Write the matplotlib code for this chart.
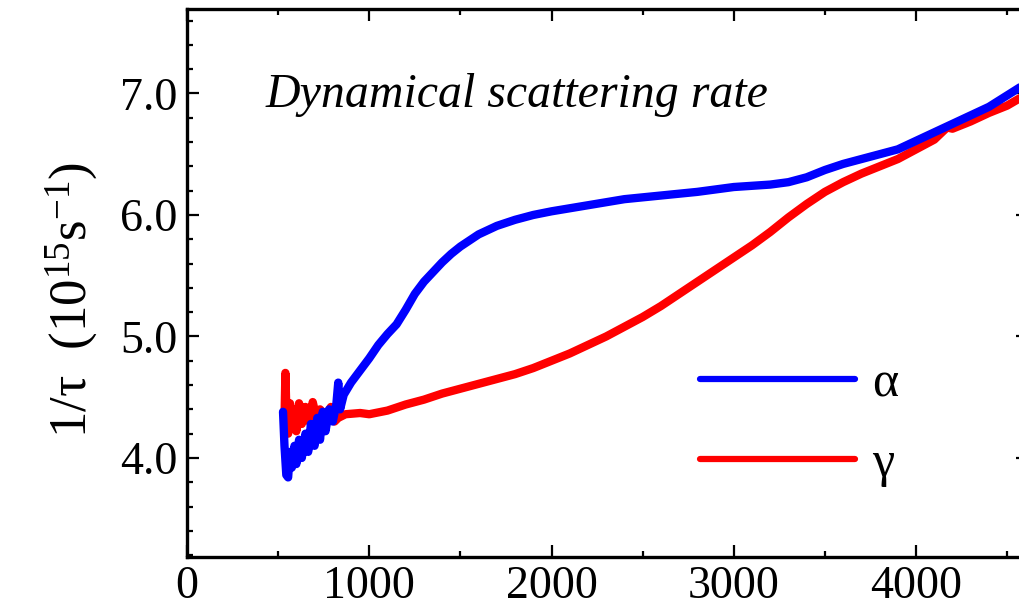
import numpy as np
import matplotlib
matplotlib.use("Agg")
import matplotlib.pyplot as plt
from matplotlib.ticker import MultipleLocator

plt.rcParams['font.family'] = ['Liberation Serif', 'DejaVu Serif']
plt.rcParams['mathtext.fontset'] = 'custom'
plt.rcParams['mathtext.rm'] = 'Liberation Serif'
plt.rcParams['mathtext.it'] = 'Liberation Serif:italic'

# alpha phase (blue)
alpha_x = [527, 535, 545, 555, 565, 575, 590, 600, 615, 630, 650, 665, 680,
           700, 715, 730, 745, 760, 780, 800, 820, 830, 840, 860, 900, 950,
           1000, 1050, 1100, 1150, 1200, 1250, 1300, 1350, 1400, 1450, 1500,
           1600, 1700, 1800, 1900, 2000, 2200, 2400, 2600, 2800, 3000, 3200,
           3300, 3400, 3500, 3600, 3700, 3800, 3900, 4000, 4200, 4400, 4580]
alpha_y = [4.38, 4.10, 3.86, 3.84, 4.05, 3.92, 4.10, 3.95, 4.15, 4.00, 4.20,
           4.05, 4.28, 4.10, 4.33, 4.15, 4.38, 4.22, 4.40, 4.30, 4.45, 4.62,
           4.40, 4.52, 4.62, 4.72, 4.82, 4.93, 5.02, 5.10, 5.22, 5.35, 5.45,
           5.53, 5.61, 5.68, 5.74, 5.84, 5.91, 5.96, 6.00, 6.03, 6.08, 6.13,
           6.16, 6.19, 6.23, 6.25, 6.27, 6.31, 6.37, 6.42, 6.46, 6.50, 6.54,
           6.61, 6.75, 6.89, 7.06]

# gamma phase (red)
gamma_x = [535, 540, 545, 555, 565, 575, 590, 600, 615, 630, 650, 670, 690,
           710, 730, 760, 790, 810, 830, 870, 950, 1000, 1100, 1200, 1300,
           1400, 1500, 1600, 1700, 1800, 1900, 2000, 2100, 2200, 2300, 2400,
           2500, 2600, 2700, 2800, 2900, 3000, 3100, 3200, 3300, 3400, 3500,
           3600, 3700, 3800, 3900, 4000, 4100, 4170, 4200, 4300, 4400, 4500,
           4580]
gamma_y = [4.30, 4.70, 4.40, 4.20, 4.45, 4.25, 4.40, 4.22, 4.45, 4.28, 4.42,
           4.30, 4.46, 4.33, 4.40, 4.35, 4.42, 4.30, 4.33, 4.36, 4.37, 4.36,
           4.39, 4.44, 4.48, 4.53, 4.57, 4.61, 4.65, 4.69, 4.74, 4.80, 4.86,
           4.93, 5.00, 5.08, 5.16, 5.25, 5.35, 5.45, 5.55, 5.65, 5.75, 5.86,
           5.98, 6.09, 6.19, 6.27, 6.34, 6.40, 6.46, 6.54, 6.62, 6.72, 6.71,
           6.77, 6.84, 6.90, 6.97]

fig = plt.figure(figsize=(10.2, 6.09), dpi=100)
ax = fig.add_axes([0.1833, 0.0854, 0.8245, 0.8998])

l_g, = ax.plot(gamma_x, gamma_y, color='#ff0000', lw=6, solid_capstyle='round',
               solid_joinstyle='round', label='γ')
l_a, = ax.plot(alpha_x, alpha_y, color='#0000ff', lw=6, solid_capstyle='round',
               solid_joinstyle='round', label='α')

ax.set_xlim(0, 4614)
ax.set_ylim(3.185, 7.695)
ax.xaxis.set_major_locator(MultipleLocator(1000))
ax.xaxis.set_minor_locator(MultipleLocator(500))
ax.yaxis.set_major_locator(MultipleLocator(1.0))
ax.yaxis.set_minor_locator(MultipleLocator(0.2))
ax.yaxis.set_major_formatter(plt.FormatStrFormatter('%.1f'))

ax.tick_params(which='both', direction='in', top=True, right=True, width=1.6,
               labelsize=33)
ax.tick_params(which='major', length=8.5)
ax.tick_params(which='minor', length=4.3)
ax.tick_params(axis='y', pad=7)
ax.tick_params(axis='x', pad=6)
for s in ax.spines.values():
    s.set_linewidth(2.4)

ax.set_ylabel('1/τ  (10$^{15}$s$^{\\mathrm{-1}}$)', fontsize=38, labelpad=14)
ax.yaxis.label.set_y(0.47)

ax.text(0.094, 0.843, 'Dynamical scattering rate', transform=ax.transAxes,
        fontsize=34.5, style='italic', va='center', ha='left')

leg = ax.legend(handles=[l_a, l_g], loc='lower left',
                bbox_to_anchor=(0.556, 0.045), frameon=False, fontsize=36,
                handlelength=3.1, handletextpad=0.35, labelspacing=0.67)
for h in leg.get_lines():
    h.set_linewidth(4.5)

fig.savefig('out.png', dpi=100)
